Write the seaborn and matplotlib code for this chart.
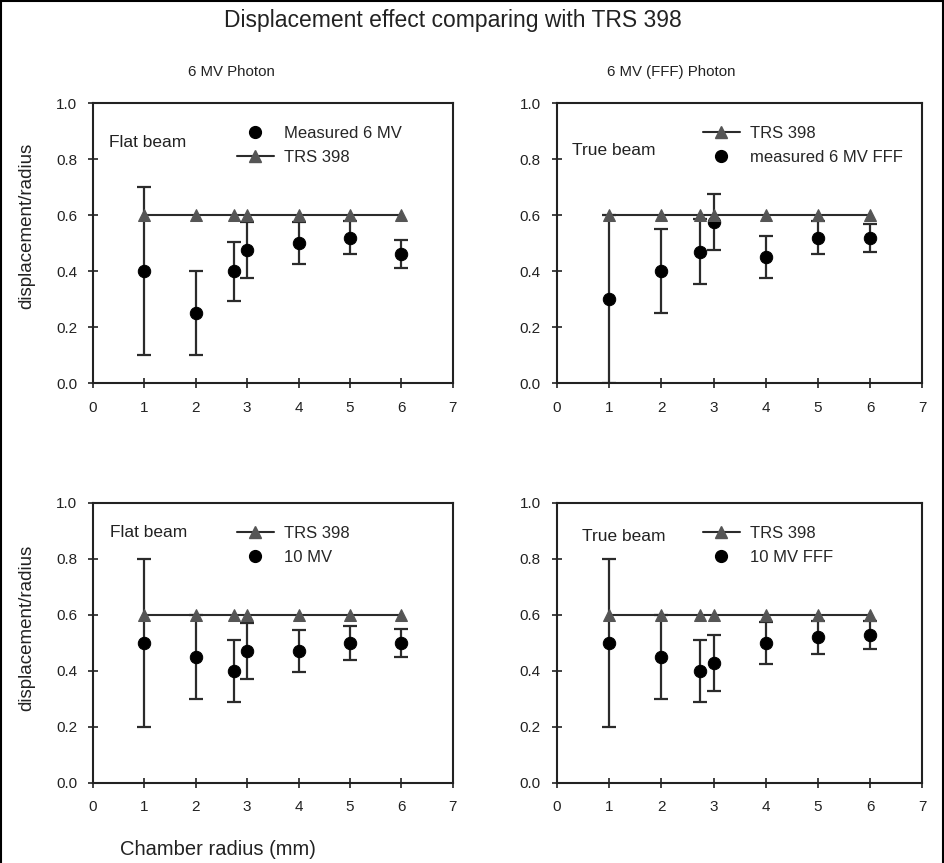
import matplotlib
matplotlib.use("Agg")
import matplotlib.pyplot as plt
import pandas as pd
import seaborn as sns
from matplotlib.lines import Line2D

# Chamber radius (mm) and displacement/radius values
radius = [1, 2, 2.75, 3, 4, 5, 6]
trs398 = [0.6, 0.6, 0.6, 0.6, 0.6, 0.6, 0.6]

meas_6mv = [0.40, 0.25, 0.40, 0.475, 0.50, 0.52, 0.46]
err_6mv = [0.30, 0.15, 0.105, 0.10, 0.075, 0.06, 0.05]

meas_6fff = [0.30, 0.40, 0.47, 0.575, 0.45, 0.52, 0.52]
err_6fff = [0.30, 0.15, 0.115, 0.10, 0.075, 0.06, 0.05]

meas_10mv = [0.50, 0.45, 0.40, 0.47, 0.47, 0.50, 0.50]
err_10mv = [0.30, 0.15, 0.11, 0.10, 0.075, 0.06, 0.05]

meas_10fff = [0.50, 0.45, 0.40, 0.43, 0.50, 0.52, 0.53]
err_10fff = [0.30, 0.15, 0.11, 0.10, 0.075, 0.06, 0.05]

panels = [
    # (measured, error, measured label, beam text, measured first in legend)
    (meas_6mv, err_6mv, "Measured 6 MV", "Flat beam", True),
    (meas_6fff, err_6fff, "measured 6 MV FFF", "True beam", False),
    (meas_10mv, err_10mv, "10 MV", "Flat beam", False),
    (meas_10fff, err_10fff, "10 MV FFF", "True beam", False),
]

sns.set_style("white")
plt.rcParams["font.family"] = ["Liberation Sans", "DejaVu Sans"]

fig = plt.figure(figsize=(9.44, 8.63), dpi=100)
axes_pos = [
    [0.0985, 0.556, 0.381, 0.3245],
    [0.590, 0.556, 0.387, 0.3245],
    [0.0985, 0.0927, 0.381, 0.3245],
    [0.590, 0.0927, 0.387, 0.3245],
]
beam_text_pos = [(0.045, 0.86), (0.041, 0.83), (0.047, 0.895), (0.068, 0.88)]

line_col = "#2b2b2b"
tri_col = "#555555"
txt_col = "#222222"

for pos, tpos, (meas, err, mlabel, beam, meas_first) in zip(axes_pos, beam_text_pos, panels):
    ax = fig.add_axes(pos)
    df = pd.DataFrame({"radius": radius, "measured": meas, "err": err, "trs": trs398})

    ax.errorbar(df["radius"], df["measured"], yerr=df["err"], fmt="none",
                ecolor=line_col, elinewidth=1.6, capsize=5, capthick=1.6, zorder=2)
    sns.scatterplot(data=df, x="radius", y="measured", ax=ax, marker="o",
                    s=80, color="black", edgecolor="black", zorder=3, legend=False)
    sns.lineplot(data=df, x="radius", y="trs", ax=ax, marker="^", markersize=8,
                 color=line_col, markerfacecolor=tri_col, markeredgecolor=tri_col,
                 linewidth=1.5, zorder=4, legend=False)

    ax.set_xlim(0, 7)
    ax.set_ylim(0, 1.0)
    ax.set_xticks(range(0, 8))
    ax.set_yticks([0.0, 0.2, 0.4, 0.6, 0.8, 1.0])
    ax.set_yticklabels(["0.0", "0.2", "0.4", "0.6", "0.8", "1.0"])
    ax.tick_params(direction="inout", length=7, width=1.2, labelsize=11,
                   colors=txt_col, bottom=True, left=True)
    ax.tick_params(axis="x", pad=9)
    ax.tick_params(axis="y", pad=8)
    for sp in ax.spines.values():
        sp.set_linewidth(1.5)
        sp.set_color(txt_col)
    ax.set_xlabel("")
    ax.set_ylabel("")

    h_meas = Line2D([], [], linestyle="none", marker="o", markersize=8.5, color="black")
    h_trs = Line2D([], [], color=line_col, linewidth=1.5, marker="^", markersize=8,
                   markerfacecolor=tri_col, markeredgecolor=tri_col)
    if meas_first:
        handles, labels = [h_meas, h_trs], [mlabel, "TRS 398"]
    else:
        handles, labels = [h_trs, h_meas], ["TRS 398", mlabel]
    ax.legend(handles, labels, loc="upper left", bbox_to_anchor=(0.40, 0.918),
              frameon=False, fontsize=12, handlelength=2.2, handletextpad=0.6,
              labelspacing=0.55, borderpad=0, borderaxespad=0)
    ax.text(tpos[0], tpos[1], beam, transform=ax.transAxes, fontsize=12.5,
            color=txt_col, va="center", ha="left")

fig.text(0.48, 0.976, "Displacement effect comparing with TRS 398",
         ha="center", va="center", fontsize=16.5, color=txt_col)
fig.text(0.245, 0.916, "6 MV Photon", ha="center", va="center", fontsize=10.8, color=txt_col)
fig.text(0.711, 0.916, "6 MV (FFF) Photon", ha="center", va="center", fontsize=10.8, color=txt_col)
fig.text(0.028, 0.738, "displacement/radius", rotation=90, ha="center", va="center",
         fontsize=13.5, color=txt_col)
fig.text(0.028, 0.272, "displacement/radius", rotation=90, ha="center", va="center",
         fontsize=13.5, color=txt_col)
fig.text(0.231, 0.016, "Chamber radius (mm)", ha="center", va="center",
         fontsize=14.5, color=txt_col)

# thin outer frame on left, top and right
for xs, ys in [([0.001, 0.001], [0, 1]), ([0, 1], [0.999, 0.999]), ([0.999, 0.999], [0, 1])]:
    fig.add_artist(Line2D(xs, ys, transform=fig.transFigure, color="black", linewidth=1.5))

fig.savefig("out.png", dpi=100)
